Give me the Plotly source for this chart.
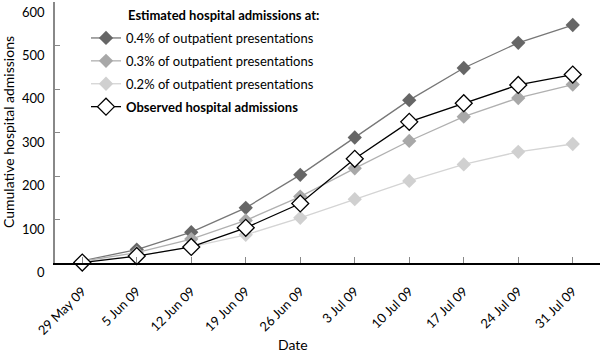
import plotly.graph_objects as go

dates = ["29 May 09", "5 Jun 09", "12 Jun 09", "19 Jun 09", "26 Jun 09",
         "3 Jul 09", "10 Jul 09", "17 Jul 09", "24 Jul 09", "31 Jul 09"]
est_04 = [5, 31, 71, 127, 203, 289, 375, 449, 507, 548]
est_03 = [4, 24, 55, 98, 153, 218, 281, 337, 380, 411]
est_02 = [3, 16, 37, 65, 104, 147, 189, 227, 256, 274]
observed = [1, 16, 37, 81, 137, 240, 325, 368, 410, 434]

y_ticks = [0, 100, 200, 300, 400, 500, 600]

x = list(range(len(dates)))
FONT = "Lato"
L, B, T = 55, 90, 2
PW = 600 - L
PH = 353 - B - T

fig = go.Figure()

series = [
    ("0.4% of outpatient presentations", est_04, "#666666", "#777777"),
    ("0.3% of outpatient presentations", est_03, "#a8a8a8", "#b0b0b0"),
    ("0.2% of outpatient presentations", est_02, "#d0d0d0", "#d4d4d4"),
]
for i, (name, vals, mc, lc) in enumerate(series):
    fig.add_trace(go.Scatter(
        x=x, y=vals, name=name, mode="lines+markers",
        line=dict(color=lc, width=1.3),
        marker=dict(symbol="diamond", size=11, color=mc, line=dict(width=0)),
        legendgroup=f"g{i}", cliponaxis=False,
    ))

fig.add_trace(go.Scatter(
    x=x, y=observed, name="<b>Observed hospital admissions</b>", mode="lines+markers",
    line=dict(color="#000000", width=1.3),
    marker=dict(symbol="diamond", size=13, color="#ffffff", line=dict(color="#000000", width=1.3)),
    legendgroup="g3", cliponaxis=False,
))

fig.add_annotation(
    text="<b>Estimated hospital admissions at:</b>", xref="paper", yref="paper",
    x=(126 - L) / PW, y=1.0, xanchor="left", yanchor="middle", yshift=-13,
    showarrow=False, font=dict(family=FONT, size=13, color="#000000"),
)
# axis titles
fig.add_annotation(
    text="Date", xref="paper", yref="paper",
    x=(293 - L) / PW, y=0, xanchor="center", yanchor="middle", yshift=-(344 - (353 - B)),
    showarrow=False, font=dict(family=FONT, size=14, color="#000000"),
)
fig.add_annotation(
    text="Cumulative hospital admissions", xref="paper", yref="paper", textangle=-90,
    x=0, y=((353 - B) - 132) / PH, xanchor="center", yanchor="middle", xshift=-(L - 8),
    showarrow=False, font=dict(family=FONT, size=14, color="#000000"),
)

fig.update_layout(
    width=600, height=353,
    margin=dict(l=L, r=0, t=T, b=B),
    paper_bgcolor="white", plot_bgcolor="white",
    font=dict(family=FONT, size=13, color="#000000"),
    showlegend=True,
    legend=dict(
        x=(86 - L) / PW, y=1 - 21 / PH, xanchor="left", yanchor="top",
        font=dict(family=FONT, size=13, color="#000000"),
        tracegroupgap=3, bgcolor="rgba(0,0,0,0)",
        itemwidth=30,
    ),
    xaxis=dict(
        range=[-0.5, 9.5], tickvals=x, ticktext=dates, tickangle=-45,
        showgrid=False, zeroline=False,
        showline=True, linecolor="#000000", linewidth=1.5,
        ticks="inside", ticklen=6, tickcolor="#888888", tickwidth=1,
        ticklabelstandoff=14, automargin=False,
        tickfont=dict(family=FONT, size=13, color="#000000"),
    ),
    yaxis=dict(
        range=[0, 601], tickvals=y_ticks,
        showgrid=False, zeroline=False,
        showline=True, linecolor="#888888", linewidth=1.5,
        ticks="inside", ticklen=5, tickcolor="#888888", tickwidth=1,
        ticklabelstandoff=6, ticklabeloverflow="allow",
        ticklabelposition="outside bottom", automargin=False,
        tickfont=dict(family=FONT, size=13, color="#000000"),
    ),
)

fig.write_html("out.html")
